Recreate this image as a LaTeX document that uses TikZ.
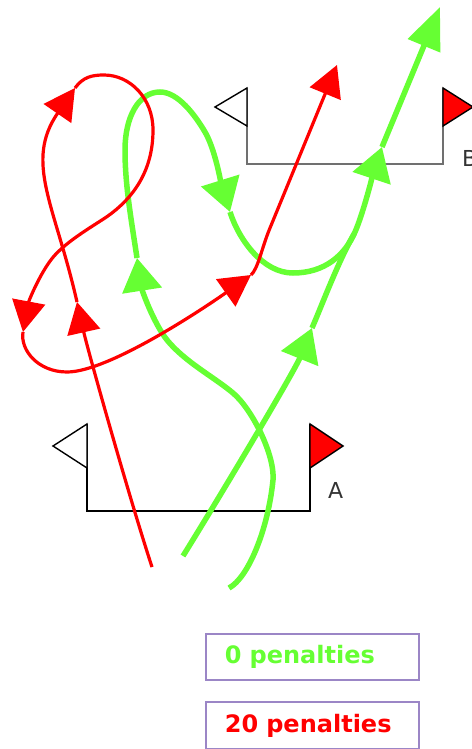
\documentclass[tikz,border=0pt]{standalone}
\usepackage{fontspec}
\setsansfont{DejaVu Sans}
\usetikzlibrary{arrows.meta,calc}
\definecolor{lime}{HTML}{66FF33}
\definecolor{flagred}{HTML}{FF0000}
\definecolor{frame}{HTML}{9B86C6}
\definecolor{pole}{HTML}{707070}
\definecolor{ink}{HTML}{333333}

\begin{document}
\begin{tikzpicture}[
  x=1pt, y=-1pt,
  font=\sffamily,
  gateA/.style={draw=black, line width=1.6pt},
  gateB/.style={draw=pole, line width=2.2pt},
  flag/.style={draw=black, line width=1.4pt, line join=miter},
  gatelabel/.style={font=\sffamily\fontsize{22pt}{26pt}\selectfont, text=ink,
                    anchor=west, inner sep=0pt},
  redrun/.style={draw=flagred, line width=3.2pt},
  redhead/.style={redrun, -{Triangle[length=31pt, width=33pt]}},
  greenrun/.style={draw=lime, line width=5.5pt},
  greenhead/.style={greenrun, -{Triangle[length=33pt, width=39pt]}},
  penalty/.style={draw=frame, line width=1.8pt, anchor=north west,
                  minimum height=46pt, text width=175pt, inner xsep=19pt,
                  align=left, font=\sffamily\bfseries\fontsize{24pt}{28pt}\selectfont}
]
\useasboundingbox (0,0) rectangle (471,749);

% gate A
\coordinate (A1) at (87,424);
\coordinate (A2) at (87,511);
\coordinate (A3) at (310,511);
\coordinate (A4) at (310,424);
\draw[gateA] (A1) -- (A2) -- (A3) -- (A4);
\draw[flag, fill=white] (A1) -- ++(-34,22) -- ++(34,22) -- cycle;
\draw[flag, fill=flagred] (A4) -- ++(33,22) -- ++(-33,22) -- cycle;
\node[gatelabel] (labelA) at (328,490) {A};

% gate B
\coordinate (B1) at (247,88);
\coordinate (B2) at (247,164);
\coordinate (B3) at (443,164);
\coordinate (B4) at (443,88);
\draw[gateB] (B1) -- (B2) -- (B3) -- (B4);
\draw[flag, fill=white] (B1) -- ++(-32,19) -- ++(32,19) -- cycle;
\draw[flag, fill=flagred] (B4) -- ++(30,19) -- ++(-30,19) -- cycle;
\node[gatelabel] (labelB) at (462,158) {B};

% clean run: way points at the arrowheads
\coordinate (gstart) at (229,588);
\coordinate (g1) at (137,258);
\coordinate (g2) at (230,212);
\coordinate (g3) at (382,147);
\coordinate (gend) at (440,7);
\draw[greenhead] (gstart) .. controls (248,578) and (268,530) .. (273,480)
  .. controls (275,455) and (252,409) .. (233,393)
  .. controls (214,377) and (185,362) .. (167,340)
  .. controls (153,322) and (142,290) .. (g1);
\draw[greenhead] (g1) .. controls (131,218) and (125,185) .. (125,150)
  .. controls (125,118) and (138,92) .. (160,92)
  .. controls (178,92) and (195,115) .. (205,132)
  .. controls (215,149) and (221,183) .. (g2);
\draw[greenhead] (g2) .. controls (239,240) and (263,273) .. (293,273)
  .. controls (325,273) and (345,255) .. (355,232)
  .. controls (363,214) and (374,171) .. (g3);
\draw[greenrun, -{Triangle[length=42pt, width=34pt]}] (g3) -- (gend);

\coordinate (hstart) at (183,556);
\coordinate (h1) at (312,328);
\coordinate (hjoin) at (354,234);
\draw[greenhead] (hstart) .. controls (230,480) and (295,370) .. (h1);
\draw[greenrun] (h1) .. controls (322,305) and (338,262) .. (hjoin);

% penalised run
\coordinate (rstart) at (152,567);
\coordinate (r1) at (77,302);
\coordinate (r2) at (75,88);
\coordinate (r3) at (23,332);
\coordinate (r4) at (251,275);
\coordinate (rend) at (337,65);
\draw[redhead] (rstart) .. controls (130,500) and (88,351) .. (r1);
\draw[redhead] (r1) .. controls (55,205) and (24,162) .. (r2);
\draw[redhead] (r2) .. controls (83,77) and (92,75) .. (104,75)
  .. controls (130,75) and (153,98) .. (153,130)
  .. controls (153,168) and (136,197) .. (105,218)
  .. controls (88,229) and (68,241) .. (55,255)
  .. controls (42,269) and (29,300) .. (r3);
\draw[redhead] (r3) .. controls (20,350) and (38,372) .. (67,372)
  .. controls (110,372) and (210,304) .. (r4);
\draw[redhead] (r4) .. controls (258,269) and (262,247) .. (270,228) -- (rend);

% penalties
\node[penalty, text=lime] (clean) at (205,633) {0 penalties};
\node[penalty, text=flagred, minimum height=47pt] (missed) at (205,701) {20 penalties};

\end{tikzpicture}
\end{document}
